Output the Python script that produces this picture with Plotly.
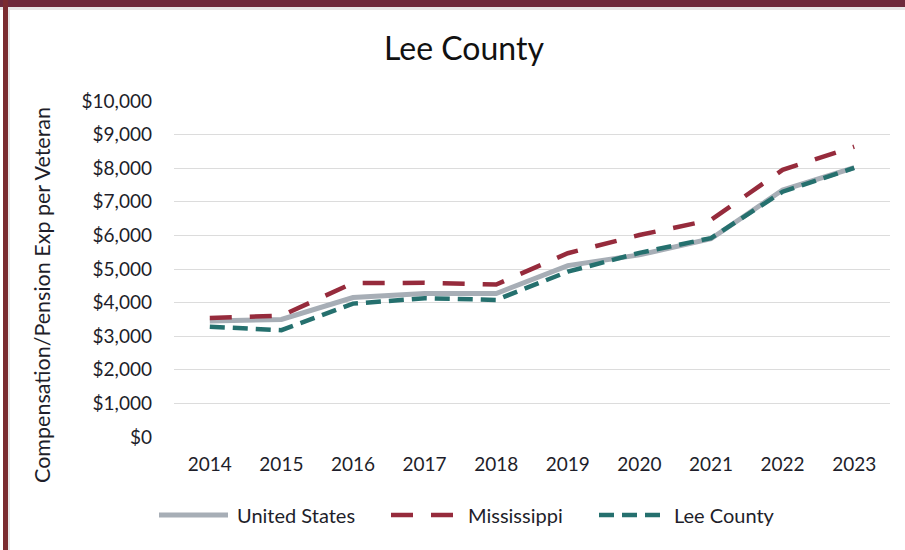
import plotly.graph_objects as go

years = ["2014", "2015", "2016", "2017", "2018", "2019", "2020", "2021", "2022", "2023"]
united_states = [3450, 3500, 4150, 4270, 4270, 5100, 5420, 5900, 7350, 8020]
mississippi = [3540, 3610, 4580, 4590, 4540, 5470, 6010, 6460, 7950, 8640]
lee_county = [3280, 3180, 3970, 4130, 4080, 4920, 5480, 5920, 7300, 8010]
y_ticks = [0, 1000, 2000, 3000, 4000, 5000, 6000, 7000, 8000, 9000, 10000]
y_tick_labels = ["$0", "$1,000", "$2,000", "$3,000", "$4,000", "$5,000",
                 "$6,000", "$7,000", "$8,000", "$9,000", "$10,000"]
series_names = ["United States", "Mississippi", "Lee County"]

W, H = 905, 550
L, R, T, B = 174, 15, 101, 113
pw, ph = W - L - R, H - T - B


def px(x):
    return (x - L) / pw


def py(y):
    return (H - B - y) / ph


FONT = "Lato, 'Open Sans', sans-serif"
TXT = "#1e1e2a"
styles = [
    dict(color="#A7AEB6", width=5, dash="solid"),
    dict(color="#962B3C", width=4.5, dash="22px,18px"),
    dict(color="#25706E", width=4.5, dash="15px,8px"),
]

fig = go.Figure()
for name, vals, st in zip(series_names, [united_states, mississippi, lee_county], styles):
    fig.add_trace(go.Scatter(x=years, y=vals, name=name, mode="lines",
                             line=dict(color=st["color"], width=st["width"], dash=st["dash"]),
                             showlegend=False))

shapes = [
    dict(type="rect", xref="paper", yref="paper", x0=px(0), x1=px(W), y0=py(10), y1=py(7),
         fillcolor="#E8E8E8", line=dict(width=0), layer="above"),
    dict(type="rect", xref="paper", yref="paper", x0=px(8), x1=px(10), y0=py(H), y1=py(7),
         fillcolor="#E8E8E8", line=dict(width=0), layer="above"),
    dict(type="rect", xref="paper", yref="paper", x0=px(0), x1=px(W), y0=py(7), y1=py(0),
         fillcolor="#6E2A3C", line=dict(width=0), layer="above"),
    dict(type="rect", xref="paper", yref="paper", x0=px(3), x1=px(8), y0=py(H), y1=py(0),
         fillcolor="#7A2C30", line=dict(width=0), layer="above"),
]

annotations = [
    dict(text="Compensation/Pension Exp per Veteran", textangle=-90, xref="paper", yref="paper",
         x=px(42), y=py(295), xanchor="center", yanchor="middle", showarrow=False,
         font=dict(size=21.5, family=FONT, color=TXT)),
]

# manual legend
leg_y = 515
leg_items = [(159, 228, 235), (391, 456, 466), (599, 661, 672)]
for (x0, x1, xt), name, st in zip(leg_items, series_names, styles):
    shapes.append(dict(type="line", xref="paper", yref="paper", x0=px(x0), x1=px(x1),
                       y0=py(leg_y), y1=py(leg_y),
                       line=dict(color=st["color"], width=st["width"], dash=st["dash"])))
    annotations.append(dict(text=name, xref="paper", yref="paper", x=px(xt), y=py(leg_y),
                            xanchor="left", yanchor="middle", showarrow=False,
                            font=dict(size=20, family=FONT, color=TXT)))

fig.update_layout(
    width=W, height=H,
    margin=dict(l=L, r=R, t=T, b=B),
    paper_bgcolor="white", plot_bgcolor="white",
    font=dict(family=FONT, color=TXT, size=19),
    title=dict(text="Lee County", x=464 / W, xanchor="center", y=1 - 49 / H, yanchor="middle",
               font=dict(size=32, family=FONT, color="#111111")),
    showlegend=False,
    xaxis=dict(type="category", range=[-0.5, 9.5], showgrid=False, showline=False,
               ticks="", tickfont=dict(size=19, family=FONT, color=TXT), ticklabelstandoff=14),
    yaxis=dict(range=[0, 10000], tickvals=y_ticks, ticktext=y_tick_labels,
               showgrid=True, gridcolor="#DCDCDC", gridwidth=1.3, zeroline=False,
               showline=False, ticks="", tickfont=dict(size=19, family=FONT, color=TXT),
               ticklabelstandoff=21),
    shapes=shapes,
    annotations=annotations,
)

fig.write_html("out.html", config={"displayModeBar": False},
               post_script="document.body.style.margin='0px';document.body.style.overflow='hidden';")
